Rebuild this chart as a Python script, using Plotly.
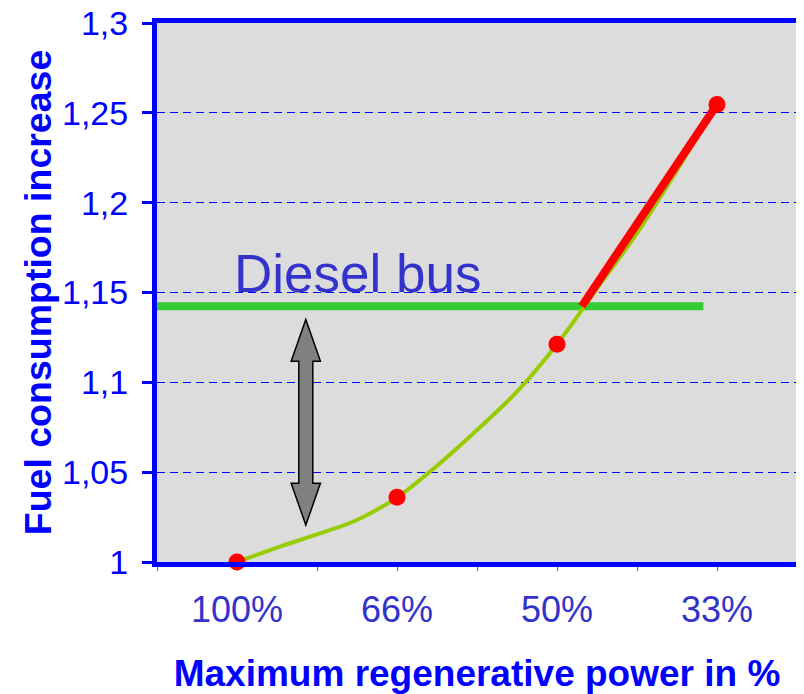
import plotly.graph_objects as go

# category positions on the x axis and their labels
cat_x = [1, 3, 5, 7]
cat_labels = ['100%', '66%', '50%', '33%']

# measured points (red dots)
dots_y = [1.0, 1.036, 1.1212, 1.2546]

# smoothed curve through the measurements
curve_x = [1, 1.5, 2, 2.5, 3, 3.5, 4, 4.5, 5, 5.5, 6, 6.5, 7]
curve_y = [1.0, 1.008, 1.0154, 1.0234, 1.036, 1.0536, 1.0735, 1.0948,
           1.1212, 1.1522, 1.183, 1.218, 1.2546]

# diesel bus reference level
diesel_level = 1.1424
diesel_x = [0, 6.83]

# part of the curve above the diesel level (red)
red_x = [5.31, 7]
red_y = [diesel_level, 1.2546]

blue = '#0000FF'
text_blue = '#3333CC'
font = 'Liberation Sans, Arial, sans-serif'

fig = go.Figure()

fig.add_trace(go.Scatter(x=diesel_x, y=[diesel_level, diesel_level], mode='lines',
                         line=dict(color='#33CC33', width=8)))
fig.add_trace(go.Scatter(x=curve_x, y=curve_y, mode='lines',
                         line=dict(color='#99CC00', width=4, shape='spline', smoothing=1.0)))
fig.add_trace(go.Scatter(x=red_x, y=red_y, mode='lines',
                         line=dict(color='#FF0000', width=8)))
fig.add_trace(go.Scatter(x=cat_x, y=dots_y, mode='markers', cliponaxis=False,
                         marker=dict(color='#FF0000', size=17)))

# double-headed grey arrow between 1.0 and the diesel level
ax = 1.86
tip_top, base_top = 1.135, 1.1118
tip_bot, base_bot = 1.0206, 1.0438
hw, sw = 0.183, 0.0875
arrow = (f'M {ax},{tip_top} L {ax + hw},{base_top} L {ax + sw},{base_top} '
         f'L {ax + sw},{base_bot} L {ax + hw},{base_bot} L {ax},{tip_bot} '
         f'L {ax - hw},{base_bot} L {ax - sw},{base_bot} L {ax - sw},{base_top} '
         f'L {ax - hw},{base_top} Z')
fig.add_shape(type='path', path=arrow, xref='x', yref='y',
              fillcolor='#808080', line=dict(color='black', width=1.5))

fig.add_annotation(x=2.5, y=1.1605, text='Diesel bus', showarrow=False,
                   xanchor='center', yanchor='middle',
                   font=dict(family=font, size=53, color=text_blue))

# page body adds an 8px offset, so the figure is a bit smaller than the window
fig.update_layout(
    width=796, height=686,
    margin=dict(l=149, r=7, t=15, b=132),
    paper_bgcolor='white', plot_bgcolor='#DCDCDC',
    showlegend=False,
    separators=', ',
    font=dict(family=font),
)

fig.update_xaxes(
    automargin=False,
    range=[0, 8], tickvals=cat_x, ticktext=cat_labels,
    ticks='outside', ticklen=4, tickwidth=1, tickcolor='#5050D0',
    minor=dict(tick0=0, dtick=1, ticks='outside', ticklen=4, tickwidth=1, tickcolor='#5050D0'),
    showgrid=False, zeroline=False,
    showline=True, linecolor=blue, linewidth=5, mirror=True,
    tickfont=dict(family=font, size=36, color=text_blue),
    ticklabelstandoff=8,
    title=dict(text='<b>Maximum regenerative power in %</b>',
               font=dict(family=font, size=37, color=blue), standoff=33),
)

fig.update_yaxes(
    automargin=False,
    range=[1, 1.3], dtick=0.05, tick0=1,
    ticks='outside', ticklen=10, tickwidth=3, tickcolor=blue,
    showgrid=True, gridcolor='rgb(0,0,255)', gridwidth=1.2, griddash='8px,5px',
    zeroline=False,
    showline=True, linecolor=blue, linewidth=5, mirror=True,
    tickfont=dict(family=font, size=34, color=blue),
    ticklabelstandoff=7, ticklabeloverflow='allow',
    title=dict(text='<b>Fuel consumption increase</b>',
               font=dict(family=font, size=37.5, color=blue), standoff=0),
)

fig.write_html('out.html')
